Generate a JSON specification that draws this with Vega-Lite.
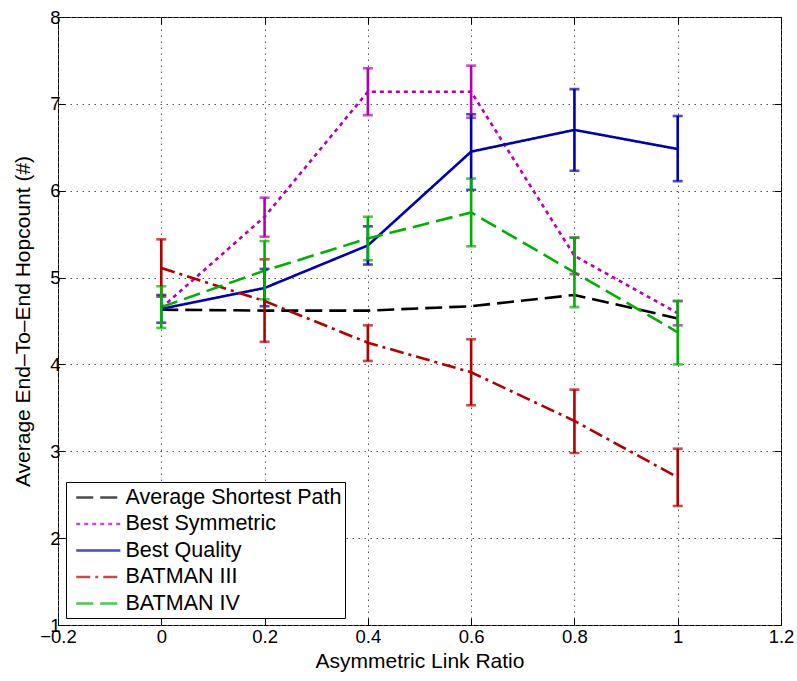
{
  "$schema": "https://vega.github.io/schema/vega-lite/v6.json",
  "width": 723,
  "height": 608,
  "autosize": {"type": "none"},
  "padding": {"left": 58, "top": 17, "right": 16, "bottom": 56},
  "background": "white",
  "config": {
    "view": {"stroke": "black", "strokeWidth": 1},
    "font": "Liberation Sans",
    "axis": {
      "labelFont": "Liberation Sans",
      "titleFont": "Liberation Sans",
      "labelFontSize": 18.5,
      "titleFontSize": 21,
      "titleFontWeight": "normal",
      "labelColor": "black",
      "titleColor": "black",
      "tickColor": "black",
      "tickWidth": 1,
      "domain": false
    },
    "legend": {
      "title": null,
      "orient": "none",
      "legendX": 8,
      "legendY": 465,
      "direction": "vertical",
      "symbolType": "M-0.5,0H3.7",
      "symbolSize": 441,
      "symbolStrokeWidth": 2.5,
      "labelFontSize": 21.5,
      "labelFont": "Liberation Sans",
      "labelColor": "black",
      "labelLimit": 400,
      "labelOffset": 32,
      "strokeColor": "black",
      "fillColor": "white",
      "padding": 3.5,
      "rowPadding": 3.5,
      "cornerRadius": 0
    }
  },
  "data": {
    "values": [
      {"series": "Average Shortest Path", "x": 0, "y": 4.63, "lo": null, "hi": null},
      {"series": "Average Shortest Path", "x": 0.2, "y": 4.62, "lo": null, "hi": null},
      {"series": "Average Shortest Path", "x": 0.4, "y": 4.62, "lo": null, "hi": null},
      {"series": "Average Shortest Path", "x": 0.6, "y": 4.67, "lo": null, "hi": null},
      {"series": "Average Shortest Path", "x": 0.8, "y": 4.8, "lo": null, "hi": null},
      {"series": "Average Shortest Path", "x": 1, "y": 4.53, "lo": null, "hi": null},
      {"series": "Best Symmetric", "x": 0, "y": 4.65, "lo": null, "hi": null},
      {"series": "Best Symmetric", "x": 0.2, "y": 5.7, "lo": 5.47, "hi": 5.92},
      {"series": "Best Symmetric", "x": 0.4, "y": 7.14, "lo": 6.87, "hi": 7.41},
      {"series": "Best Symmetric", "x": 0.6, "y": 7.14, "lo": 6.84, "hi": 7.44},
      {"series": "Best Symmetric", "x": 0.8, "y": 5.25, "lo": 5.04, "hi": 5.46},
      {"series": "Best Symmetric", "x": 1, "y": 4.59, "lo": 4.45, "hi": 4.73},
      {"series": "Best Quality", "x": 0, "y": 4.64, "lo": 4.48, "hi": 4.8},
      {"series": "Best Quality", "x": 0.2, "y": 4.88, "lo": 4.67, "hi": 5.1},
      {"series": "Best Quality", "x": 0.4, "y": 5.37, "lo": 5.15, "hi": 5.59},
      {"series": "Best Quality", "x": 0.6, "y": 6.45, "lo": 6.01, "hi": 6.88},
      {"series": "Best Quality", "x": 0.8, "y": 6.7, "lo": 6.23, "hi": 7.17},
      {"series": "Best Quality", "x": 1, "y": 6.48, "lo": 6.11, "hi": 6.86},
      {"series": "BATMAN III", "x": 0, "y": 5.11, "lo": 4.78, "hi": 5.44},
      {"series": "BATMAN III", "x": 0.2, "y": 4.73, "lo": 4.26, "hi": 5.21},
      {"series": "BATMAN III", "x": 0.4, "y": 4.25, "lo": 4.04, "hi": 4.45},
      {"series": "BATMAN III", "x": 0.6, "y": 3.91, "lo": 3.53, "hi": 4.29},
      {"series": "BATMAN III", "x": 0.8, "y": 3.35, "lo": 2.98, "hi": 3.71},
      {"series": "BATMAN III", "x": 1, "y": 2.7, "lo": 2.37, "hi": 3.03},
      {"series": "BATMAN IV", "x": 0, "y": 4.66, "lo": 4.42, "hi": 4.9},
      {"series": "BATMAN IV", "x": 0.2, "y": 5.08, "lo": 4.75, "hi": 5.42},
      {"series": "BATMAN IV", "x": 0.4, "y": 5.45, "lo": 5.2, "hi": 5.7},
      {"series": "BATMAN IV", "x": 0.6, "y": 5.75, "lo": 5.36, "hi": 6.14},
      {"series": "BATMAN IV", "x": 0.8, "y": 5.06, "lo": 4.66, "hi": 5.46},
      {"series": "BATMAN IV", "x": 1, "y": 4.37, "lo": 4.0, "hi": 4.73}
    ]
  },
  "resolve": {"axis": {"x": "independent", "y": "independent"}},
  "layer": [
    {
      "mark": {"type": "line", "strokeWidth": 2.6, "strokeCap": "butt"},
      "encoding": {
        "x": {
          "field": "x", "type": "quantitative",
          "scale": {"domain": [-0.2, 1.2], "nice": false, "zero": false},
          "axis": {
            "orient": "bottom",
            "title": "Asymmetric Link Ratio",
            "values": [-0.2, 0, 0.2, 0.4, 0.6, 0.8, 1, 1.2],
            "format": "~f",
            "tickSize": -7,
            "labelPadding": 9,
            "titlePadding": 5,
            "grid": true,
            "gridColor": "#555555",
            "gridDash": [1.5, 4.5],
            "gridOpacity": 1,
            "labelFlush": false,
            "labelOverlap": false
          }
        },
        "y": {
          "field": "y", "type": "quantitative",
          "scale": {"domain": [1, 8], "nice": false, "zero": false},
          "axis": {
            "orient": "left",
            "title": "Average End–To–End Hopcount (#)",
            "values": [1, 2, 3, 4, 5, 6, 7, 8],
            "format": "d",
            "tickSize": -7,
            "labelPadding": 5,
            "titlePadding": 16,
            "grid": true,
            "gridColor": "#555555",
            "gridDash": [1.5, 4.5],
            "gridOpacity": 1,
            "labelFlush": false,
            "labelOverlap": false
          }
        },
        "color": {
          "field": "series", "type": "nominal",
          "scale": {
            "domain": ["Average Shortest Path", "Best Symmetric", "Best Quality", "BATMAN III", "BATMAN IV"],
            "range": ["#000000", "#B300B3", "#0000B0", "#B00000", "#00B000"]
          }
        },
        "strokeDash": {
          "field": "series", "type": "nominal",
          "scale": {
            "domain": ["Average Shortest Path", "Best Symmetric", "Best Quality", "BATMAN III", "BATMAN IV"],
            "range": [[17, 7], [4, 4], [1, 0], [14, 5, 3, 5], [17, 7]]
          }
        }
      }
    },
    {
      "transform": [{"filter": "datum.lo != null"}],
      "mark": {"type": "errorbar", "thickness": 2.6, "ticks": {"size": 10, "thickness": 2.6}},
      "encoding": {
        "x": {
          "field": "x", "type": "quantitative",
          "axis": {"orient": "top", "labels": false, "title": null, "grid": false, "tickSize": -7, "values": [-0.2, 0, 0.2, 0.4, 0.6, 0.8, 1, 1.2]}
        },
        "y": {
          "field": "lo", "type": "quantitative",
          "axis": {"orient": "right", "labels": false, "title": null, "grid": false, "tickSize": -7, "values": [1, 2, 3, 4, 5, 6, 7, 8]}
        },
        "y2": {"field": "hi"},
        "color": {"field": "series", "type": "nominal"}
      }
    }
  ]
}
